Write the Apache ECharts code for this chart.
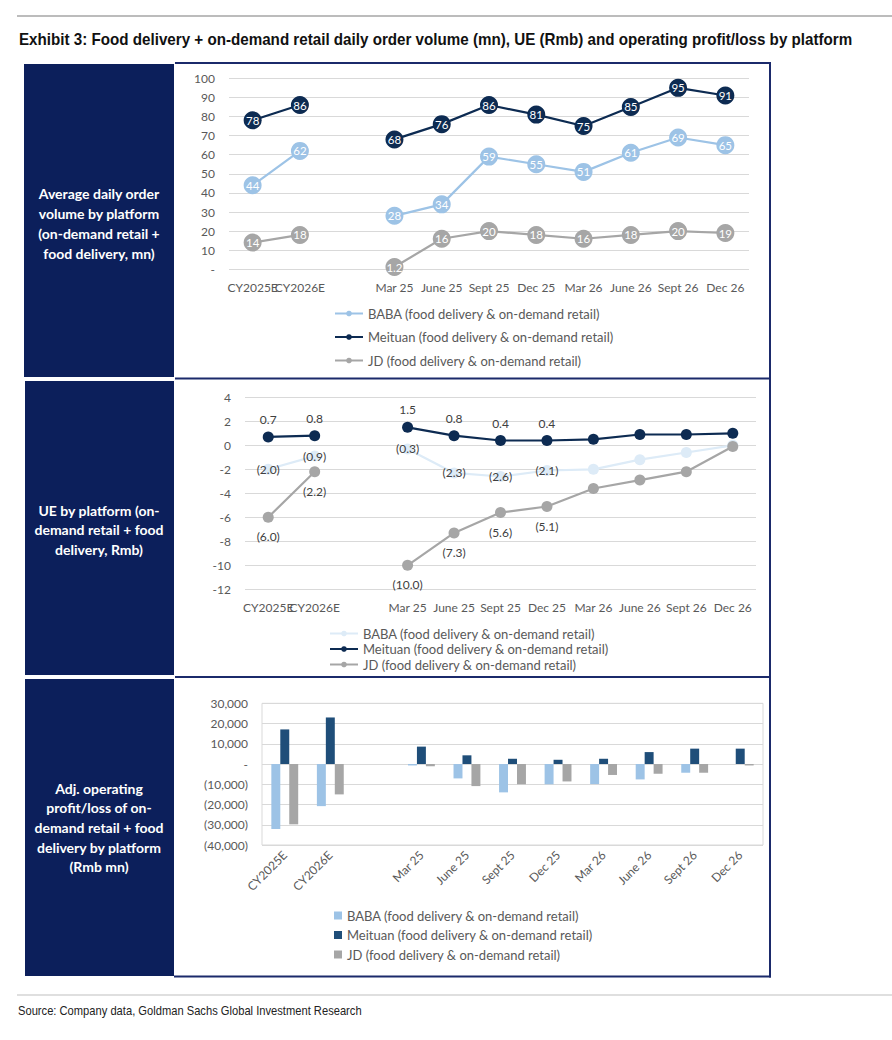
<!DOCTYPE html>
<html><head><meta charset="utf-8">
<script src="https://cdn.jsdelivr.net/npm/echarts@6/dist/echarts.min.js"></script>
<style>html,body{margin:0;padding:0;background:#fff}#c{width:892px;height:1040px}</style>
</head><body><div id="c"></div>
<script>
// ---- data ----
const categories = ['CY2025E','CY2026E','','Mar 25','June 25','Sept 25','Dec 25','Mar 26','June 26','Sept 26','Dec 26'];
const seriesNames = ['BABA (food delivery & on-demand retail)','Meituan (food delivery & on-demand retail)','JD (food delivery & on-demand retail)'];

// daily order volume (mn)
const orderBABA    = [44, 62, null, 28, 34, 59, 55, 51, 61, 69, 65];
const orderMeituan = [78, 86, null, 68, 76, 86, 81, 75, 85, 95, 91];
const orderJD      = [14, 18, null, 1.2, 16, 20, 18, 16, 18, 20, 19];
const orderTicks = {min: 0, max: 100, interval: 10};

// UE (Rmb)
const ueBABA    = [-2.0, -0.9, null, -0.3, -2.3, -2.6, -2.1, -2.0, -1.2, -0.6, 0.0];
const ueMeituan = [0.7, 0.8, null, 1.5, 0.8, 0.4, 0.4, 0.5, 0.9, 0.9, 1.0];
const ueJD      = [-6.0, -2.2, null, -10.0, -7.3, -5.6, -5.1, -3.6, -2.9, -2.2, -0.1];
const ueLabelledCount = 7; // labels shown through Dec 25
const ueTicks = {min: -12, max: 4, interval: 2};

// Adj. operating profit/loss (Rmb mn)
const opBABA    = [-32100, -20800, null, -700, -7100, -14000, -10000, -9900, -7600, -4300, 0];
const opMeituan = [17100, 23000, null, 8600, 4300, 2600, 2100, 2600, 5900, 7600, 7600];
const opJD      = [-29800, -15000, null, -1100, -10900, -10000, -8600, -5400, -4800, -4300, -700];
const opTicks = {min: -40000, max: 30000, interval: 10000};

const titleText = 'Exhibit 3: Food delivery + on-demand retail daily order volume (mn), UE (Rmb) and operating profit/loss by platform';
const sourceText = 'Source: Company data, Goldman Sachs Global Investment Research';

// ---- styles ----
const C = {
  baba: '#9DC3E6', babaPale: '#DDEBF7', meituan: '#0D2B52', meituanBar: '#1F4E79', jd: '#A6A6A6',
  navy: '#0C1F5B', border: '#1B2A6B', axis: '#595959', grid: '#D9D9D9'
};
const FONT = 'Lato, "Open Sans", sans-serif';
const SANS = '"Liberation Sans", Arial, sans-serif';

// condensed look: measure the text and squeeze it horizontally to the reference width
const mctx = document.createElement('canvas').getContext('2d');
function squeeze(text, font, targetW) {
  mctx.font = font;
  return targetW / mctx.measureText(text).width;
}
const titleFont = 'bold 16.5px ' + SANS;
const sourceFont = '13px ' + SANS;

const fmtThousands = v => Math.abs(v).toLocaleString('en-US');
const opFmt = v => v === 0 ? '-' : (v < 0 ? '(' + fmtThousands(v) + ')' : fmtThousands(v));
const ueFmt = v => v < 0 ? '(' + (-v).toFixed(1) + ')' : v.toFixed(1);

function catAxis(gi, extra) {
  return Object.assign({
    type: 'category', gridIndex: gi, data: categories, boundaryGap: true,
    axisLine: {show: false}, axisTick: {show: false},
    axisLabel: {interval: 0, color: C.axis, fontFamily: FONT, fontSize: 12, margin: 12}
  }, extra || {});
}
function valAxis(gi, t, fmt) {
  return {
    type: 'value', gridIndex: gi, min: t.min, max: t.max, interval: t.interval,
    axisLine: {show: false}, axisTick: {show: false},
    splitLine: {show: true, lineStyle: {color: C.grid, width: 1}},
    axisLabel: {color: C.axis, fontFamily: FONT, fontSize: 12, margin: 14, formatter: fmt}
  };
}

function orderLine(name, data, color) {
  return {
    type: 'line', name, data, xAxisIndex: 0, yAxisIndex: 0, connectNulls: false,
    symbol: 'circle', symbolSize: 18, lineStyle: {color, width: 2.2}, itemStyle: {color},
    label: {show: true, position: 'inside', color: '#fff', fontFamily: FONT, fontSize: 11.5,
            formatter: p => String(p.value)},
    emphasis: {disabled: true}
  };
}
function ueLine(name, data, color, labelPos, labelDist) {
  return {
    type: 'line', name, data, xAxisIndex: 1, yAxisIndex: 1, connectNulls: false,
    symbol: 'circle', symbolSize: 11, lineStyle: {color, width: 2.2}, itemStyle: {color},
    label: {show: true, position: labelPos, distance: labelDist, color: '#404040', fontFamily: FONT, fontSize: 12,
            formatter: p => (p.dataIndex < ueLabelledCount && p.value != null) ? ueFmt(p.value) : ''},
    emphasis: {disabled: true}
  };
}
function opBar(name, data, color) {
  return {
    type: 'bar', name, data, xAxisIndex: 2, yAxisIndex: 2, barGap: '0%', barCategoryGap: '41%',
    itemStyle: {color}, emphasis: {disabled: true}
  };
}

const legendText = {color: C.axis, fontFamily: FONT, fontSize: 13};
const panelFont = 'bold 14px ' + FONT;

const option = {
  animation: false,
  backgroundColor: '#fff',
  grid: [
    {left: 229, top: 78.3, width: 520, height: 191, outerBoundsMode: 'none'},
    {left: 245, top: 397.3, width: 511, height: 192, outerBoundsMode: 'none'},
    {left: 262, top: 703.3, width: 501, height: 141.7, show: true, borderColor: C.grid, borderWidth: 1, outerBoundsMode: 'none'}
  ],
  xAxis: [
    catAxis(0),
    catAxis(1),
    catAxis(2, {axisLabel: {interval: 0, rotate: 45, color: C.axis, fontFamily: FONT, fontSize: 12, margin: 8}})
  ],
  yAxis: [
    valAxis(0, orderTicks, v => v === 0 ? '-' : String(v)),
    valAxis(1, ueTicks, v => String(v)),
    valAxis(2, opTicks, opFmt)
  ],
  legend: [
    {orient: 'vertical', left: 329, top: 302, itemWidth: 28, itemHeight: 7, itemGap: 10.5, textStyle: legendText,
     data: seriesNames.map((n, i) => ({name: n, itemStyle: {color: [C.baba, C.meituan, C.jd][i]}, lineStyle: {color: [C.baba, C.meituan, C.jd][i]}}))},
    {orient: 'vertical', left: 324, top: 622, itemWidth: 28, itemHeight: 7, itemGap: 2.5, textStyle: legendText,
     data: seriesNames.map((n, i) => ({name: n, itemStyle: {color: [C.babaPale, C.meituan, C.jd][i]}, lineStyle: {color: [C.babaPale, C.meituan, C.jd][i]}}))},
    {orient: 'vertical', left: 329, top: 904, itemWidth: 8, itemHeight: 8, itemGap: 6.5, icon: 'rect', textStyle: legendText,
     data: seriesNames.map((n, i) => ({name: n, itemStyle: {color: [C.baba, C.meituanBar, C.jd][i]}}))}
  ],
  series: [
    orderLine(seriesNames[0], orderBABA, C.baba),
    orderLine(seriesNames[1], orderMeituan, C.meituan),
    orderLine(seriesNames[2], orderJD, C.jd),
    ueLine(seriesNames[0], ueBABA, C.babaPale, 'inside', 0),
    ueLine(seriesNames[1], ueMeituan, C.meituan, 'top', 6),
    ueLine(seriesNames[2], ueJD, C.jd, 'bottom', 8),
    opBar(seriesNames[0], opBABA, C.baba),
    opBar(seriesNames[1], opMeituan, C.meituanBar),
    opBar(seriesNames[2], opJD, C.jd)
  ],
  graphic: [
    {type: 'line', shape: {x1: 17, y1: 16, x2: 892, y2: 16}, style: {stroke: '#A6A6A6', lineWidth: 1.5}},
    {type: 'text', x: 19, y: 39, scaleX: squeeze(titleText, titleFont, 834),
      style: {text: titleText, font: titleFont, fill: '#111', textVerticalAlign: 'middle'}},
    // navy label panels
    {type: 'rect', shape: {x: 24, y: 64, width: 150, height: 313}, style: {fill: C.navy}},
    {type: 'rect', shape: {x: 25, y: 381, width: 149, height: 294}, style: {fill: C.navy}},
    {type: 'rect', shape: {x: 25, y: 679, width: 149, height: 297}, style: {fill: C.navy}},
    {type: 'text', x: 99, y: 223.3, style: {text: 'Average daily order\nvolume by platform\n(on-demand retail +\nfood delivery, mn)',
      font: panelFont, fill: '#fff', textAlign: 'center', textVerticalAlign: 'middle', lineHeight: 20}},
    {type: 'text', x: 99, y: 529.5, style: {text: 'UE by platform (on-\ndemand retail + food\ndelivery, Rmb)',
      font: panelFont, fill: '#fff', textAlign: 'center', textVerticalAlign: 'middle', lineHeight: 19.5}},
    {type: 'text', x: 99, y: 827.5, style: {text: 'Adj. operating\nprofit/loss of on-\ndemand retail + food\ndelivery by platform\n(Rmb mn)',
      font: panelFont, fill: '#fff', textAlign: 'center', textVerticalAlign: 'middle', lineHeight: 19.6}},
    // chart box borders
    {type: 'line', shape: {x1: 175, y1: 63, x2: 771, y2: 63}, style: {stroke: C.border, lineWidth: 2}},
    {type: 'line', shape: {x1: 770, y1: 62, x2: 770, y2: 977.5}, style: {stroke: C.border, lineWidth: 2}},
    {type: 'line', shape: {x1: 175, y1: 378.5, x2: 771, y2: 378.5}, style: {stroke: C.border, lineWidth: 2}},
    {type: 'line', shape: {x1: 175, y1: 677, x2: 771, y2: 677}, style: {stroke: C.border, lineWidth: 2}},
    {type: 'line', shape: {x1: 174, y1: 976.5, x2: 771, y2: 976.5}, style: {stroke: C.border, lineWidth: 2}},
    // source
    {type: 'line', shape: {x1: 17, y1: 995, x2: 892, y2: 995}, style: {stroke: '#BFBFBF', lineWidth: 1.2}},
    {type: 'text', x: 18, y: 1011, scaleX: squeeze(sourceText, sourceFont, 344),
      style: {text: sourceText, font: sourceFont, fill: '#222', textVerticalAlign: 'middle'}}
  ]
};

const chart = echarts.init(document.getElementById('c'), null, {renderer: 'svg', width: 892, height: 1040});
chart.setOption(option);
</script></body></html>
